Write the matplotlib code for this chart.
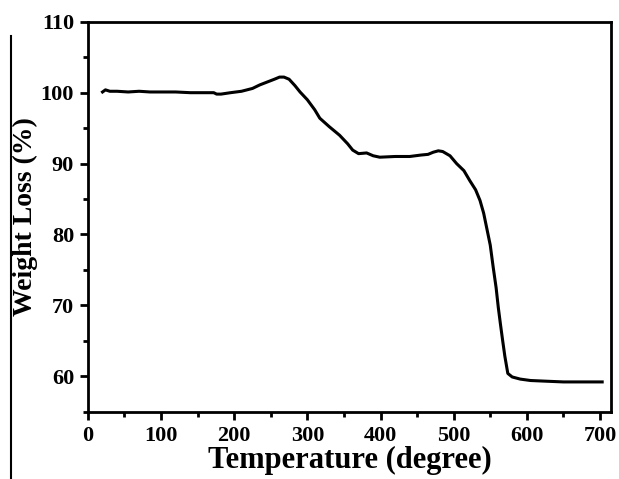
import matplotlib
matplotlib.use("Agg")
import matplotlib.pyplot as plt
from matplotlib.ticker import MultipleLocator
from matplotlib.lines import Line2D

temperature = [20, 24, 30, 40, 55, 70, 85, 100, 120, 140, 160, 172, 176, 182, 195, 210, 225,
               235, 245, 255, 262, 268, 275, 283, 290, 300, 310, 317, 330, 344, 355, 362,
               370, 381, 390, 399, 420, 440, 455, 465, 472, 479, 485, 495, 504, 514, 522,
               530, 536, 541, 545, 550, 554, 558, 561, 564, 567, 570, 574, 580, 591, 605,
               627, 650, 675, 703]
weight = [100.1, 100.4, 100.2, 100.2, 100.1, 100.2, 100.1, 100.1, 100.1, 100.0, 100.0, 100.0,
          99.8, 99.8, 100.0, 100.2, 100.6, 101.1, 101.5, 101.9, 102.2, 102.2, 101.9, 101.0,
          100.1, 99.0, 97.6, 96.4, 95.2, 94.0, 92.8, 91.9, 91.4, 91.5, 91.1, 90.9, 91.0, 91.0,
          91.2, 91.3, 91.6, 91.8, 91.7, 91.1, 90.0, 89.0, 87.6, 86.3, 84.8, 83.0, 81.0, 78.5,
          75.4, 72.5, 69.7, 67.3, 65.0, 62.8, 60.4, 59.9, 59.6, 59.4, 59.3, 59.2, 59.2, 59.2]

plt.rcParams['font.family'] = ['Liberation Serif', 'DejaVu Serif']
plt.rcParams['font.weight'] = 'bold'

fig = plt.figure(figsize=(6.19, 4.79), dpi=100)
ax = fig.add_axes([0.142, 0.1405, 0.845, 0.814])
ax.plot(temperature, weight, color='black', lw=2.2)
ax.set_xlim(0, 715)
ax.set_ylim(55, 110)
ax.xaxis.set_major_locator(MultipleLocator(100))
ax.xaxis.set_minor_locator(MultipleLocator(50))
ax.set_yticks([60, 70, 80, 90, 100, 110])
ax.yaxis.set_minor_locator(MultipleLocator(5))
ax.tick_params(which='major', direction='out', length=6, width=2, labelsize=16, pad=4)
ax.tick_params(which='minor', direction='out', length=3.5, width=2)
for s in ax.spines.values():
    s.set_linewidth(2)
for lbl in ax.get_xticklabels() + ax.get_yticklabels():
    lbl.set_fontweight('bold')
ax.set_xlabel('Temperature (degree)', fontsize=22, fontweight='bold', labelpad=0)
ax.set_ylabel('Weight Loss (%)', fontsize=20, fontweight='bold')
ax.yaxis.set_label_coords(-0.096, 0.5)

fig.add_artist(Line2D([11/619, 11/619], [1 - 36/479, 0], transform=fig.transFigure,
                      color='black', lw=1.5))

fig.savefig('out.png', dpi=100)
